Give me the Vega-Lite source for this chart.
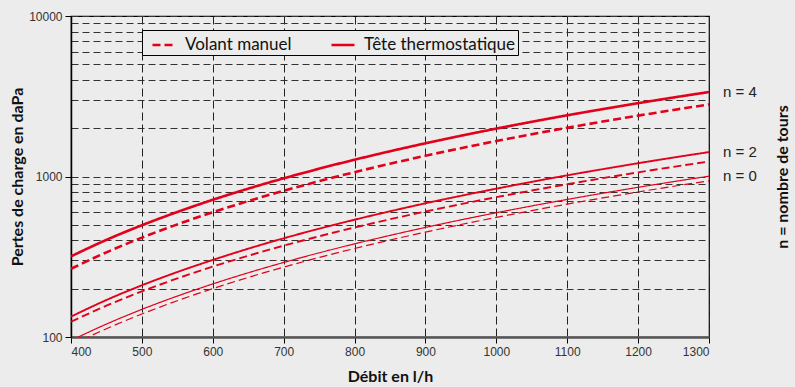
{
  "$schema": "https://vega.github.io/schema/vega-lite/v6.json",
  "width": 638,
  "height": 321,
  "autosize": {"type": "none"},
  "padding": {"left": 71, "top": 16, "right": 86, "bottom": 50},
  "background": "#ebeceb",
  "config": {
    "view": {"stroke": "#000", "strokeWidth": 1.2, "fill": "#ebeceb"},
    "axis": {"labelFont": "Liberation Sans", "labelFontSize": 12, "labelColor": "#333", "titleFont": "Lato", "titleFontWeight": "bold", "titleFontSize": 16, "titleColor": "#111"}
  },
  "datasets": {
    "curves": [
      {"q":400,"dp":318,"n":4,"type":"Tête thermostatique"},{"q":450,"dp":403,"n":4,"type":"Tête thermostatique"},{"q":500,"dp":497,"n":4,"type":"Tête thermostatique"},{"q":550,"dp":601,"n":4,"type":"Tête thermostatique"},{"q":600,"dp":716,"n":4,"type":"Tête thermostatique"},{"q":650,"dp":840,"n":4,"type":"Tête thermostatique"},{"q":700,"dp":974,"n":4,"type":"Tête thermostatique"},{"q":750,"dp":1118,"n":4,"type":"Tête thermostatique"},{"q":800,"dp":1272,"n":4,"type":"Tête thermostatique"},{"q":850,"dp":1436,"n":4,"type":"Tête thermostatique"},{"q":900,"dp":1610,"n":4,"type":"Tête thermostatique"},{"q":950,"dp":1794,"n":4,"type":"Tête thermostatique"},{"q":1000,"dp":1988,"n":4,"type":"Tête thermostatique"},{"q":1050,"dp":2192,"n":4,"type":"Tête thermostatique"},{"q":1100,"dp":2406,"n":4,"type":"Tête thermostatique"},{"q":1150,"dp":2629,"n":4,"type":"Tête thermostatique"},{"q":1200,"dp":2863,"n":4,"type":"Tête thermostatique"},{"q":1250,"dp":3107,"n":4,"type":"Tête thermostatique"},{"q":1300,"dp":3360,"n":4,"type":"Tête thermostatique"},
      {"q":400,"dp":266,"n":4,"type":"Volant manuel"},{"q":450,"dp":337,"n":4,"type":"Volant manuel"},{"q":500,"dp":416,"n":4,"type":"Volant manuel"},{"q":550,"dp":503,"n":4,"type":"Volant manuel"},{"q":600,"dp":599,"n":4,"type":"Volant manuel"},{"q":650,"dp":703,"n":4,"type":"Volant manuel"},{"q":700,"dp":815,"n":4,"type":"Volant manuel"},{"q":750,"dp":935,"n":4,"type":"Volant manuel"},{"q":800,"dp":1064,"n":4,"type":"Volant manuel"},{"q":850,"dp":1201,"n":4,"type":"Volant manuel"},{"q":900,"dp":1347,"n":4,"type":"Volant manuel"},{"q":950,"dp":1501,"n":4,"type":"Volant manuel"},{"q":1000,"dp":1663,"n":4,"type":"Volant manuel"},{"q":1050,"dp":1833,"n":4,"type":"Volant manuel"},{"q":1100,"dp":2012,"n":4,"type":"Volant manuel"},{"q":1150,"dp":2199,"n":4,"type":"Volant manuel"},{"q":1200,"dp":2394,"n":4,"type":"Volant manuel"},{"q":1250,"dp":2598,"n":4,"type":"Volant manuel"},{"q":1300,"dp":2810,"n":4,"type":"Volant manuel"},
      {"q":400,"dp":134,"n":2,"type":"Tête thermostatique"},{"q":450,"dp":170,"n":2,"type":"Tête thermostatique"},{"q":500,"dp":210,"n":2,"type":"Tête thermostatique"},{"q":550,"dp":254,"n":2,"type":"Tête thermostatique"},{"q":600,"dp":302,"n":2,"type":"Tête thermostatique"},{"q":650,"dp":355,"n":2,"type":"Tête thermostatique"},{"q":700,"dp":412,"n":2,"type":"Tête thermostatique"},{"q":750,"dp":473,"n":2,"type":"Tête thermostatique"},{"q":800,"dp":538,"n":2,"type":"Tête thermostatique"},{"q":850,"dp":607,"n":2,"type":"Tête thermostatique"},{"q":900,"dp":681,"n":2,"type":"Tête thermostatique"},{"q":950,"dp":758,"n":2,"type":"Tête thermostatique"},{"q":1000,"dp":840,"n":2,"type":"Tête thermostatique"},{"q":1050,"dp":926,"n":2,"type":"Tête thermostatique"},{"q":1100,"dp":1017,"n":2,"type":"Tête thermostatique"},{"q":1150,"dp":1111,"n":2,"type":"Tête thermostatique"},{"q":1200,"dp":1210,"n":2,"type":"Tête thermostatique"},{"q":1250,"dp":1313,"n":2,"type":"Tête thermostatique"},{"q":1300,"dp":1420,"n":2,"type":"Tête thermostatique"},
      {"q":400,"dp":124.5,"n":2,"type":"Volant manuel"},{"q":450,"dp":156.7,"n":2,"type":"Volant manuel"},{"q":500,"dp":192.4,"n":2,"type":"Volant manuel"},{"q":550,"dp":231.7,"n":2,"type":"Volant manuel"},{"q":600,"dp":274.5,"n":2,"type":"Volant manuel"},{"q":650,"dp":320.9,"n":2,"type":"Volant manuel"},{"q":700,"dp":370.8,"n":2,"type":"Volant manuel"},{"q":750,"dp":424.2,"n":2,"type":"Volant manuel"},{"q":800,"dp":481.1,"n":2,"type":"Volant manuel"},{"q":850,"dp":541.5,"n":2,"type":"Volant manuel"},{"q":900,"dp":605.4,"n":2,"type":"Volant manuel"},{"q":950,"dp":672.6,"n":2,"type":"Volant manuel"},{"q":1000,"dp":743.4,"n":2,"type":"Volant manuel"},{"q":1050,"dp":817.6,"n":2,"type":"Volant manuel"},{"q":1100,"dp":895.3,"n":2,"type":"Volant manuel"},{"q":1150,"dp":976.2,"n":2,"type":"Volant manuel"},{"q":1200,"dp":1060.8,"n":2,"type":"Volant manuel"},{"q":1250,"dp":1148.8,"n":2,"type":"Volant manuel"},{"q":1300,"dp":1240,"n":2,"type":"Volant manuel"},
      {"q":400,"dp":95.1,"n":0,"type":"Tête thermostatique"},{"q":450,"dp":120.4,"n":0,"type":"Tête thermostatique"},{"q":500,"dp":148.7,"n":0,"type":"Tête thermostatique"},{"q":550,"dp":179.9,"n":0,"type":"Tête thermostatique"},{"q":600,"dp":214.1,"n":0,"type":"Tête thermostatique"},{"q":650,"dp":251.3,"n":0,"type":"Tête thermostatique"},{"q":700,"dp":291.4,"n":0,"type":"Tête thermostatique"},{"q":750,"dp":334.5,"n":0,"type":"Tête thermostatique"},{"q":800,"dp":380.6,"n":0,"type":"Tête thermostatique"},{"q":850,"dp":429.6,"n":0,"type":"Tête thermostatique"},{"q":900,"dp":481.7,"n":0,"type":"Tête thermostatique"},{"q":950,"dp":536.7,"n":0,"type":"Tête thermostatique"},{"q":1000,"dp":594.7,"n":0,"type":"Tête thermostatique"},{"q":1050,"dp":655.6,"n":0,"type":"Tête thermostatique"},{"q":1100,"dp":719.6,"n":0,"type":"Tête thermostatique"},{"q":1150,"dp":786.5,"n":0,"type":"Tête thermostatique"},{"q":1200,"dp":856.3,"n":0,"type":"Tête thermostatique"},{"q":1250,"dp":929.2,"n":0,"type":"Tête thermostatique"},{"q":1300,"dp":1005,"n":0,"type":"Tête thermostatique"},
      {"q":400,"dp":89.0,"n":0,"type":"Volant manuel"},{"q":450,"dp":112.6,"n":0,"type":"Volant manuel"},{"q":500,"dp":139.1,"n":0,"type":"Volant manuel"},{"q":550,"dp":168.3,"n":0,"type":"Volant manuel"},{"q":600,"dp":200.2,"n":0,"type":"Volant manuel"},{"q":650,"dp":235,"n":0,"type":"Volant manuel"},{"q":700,"dp":272.5,"n":0,"type":"Volant manuel"},{"q":750,"dp":312.9,"n":0,"type":"Volant manuel"},{"q":800,"dp":356,"n":0,"type":"Volant manuel"},{"q":850,"dp":401.9,"n":0,"type":"Volant manuel"},{"q":900,"dp":450.5,"n":0,"type":"Volant manuel"},{"q":950,"dp":502,"n":0,"type":"Volant manuel"},{"q":1000,"dp":556.2,"n":0,"type":"Volant manuel"},{"q":1050,"dp":613.2,"n":0,"type":"Volant manuel"},{"q":1100,"dp":673,"n":0,"type":"Volant manuel"},{"q":1150,"dp":735.6,"n":0,"type":"Volant manuel"},{"q":1200,"dp":800.9,"n":0,"type":"Volant manuel"},{"q":1250,"dp":869.1,"n":0,"type":"Volant manuel"},{"q":1300,"dp":940,"n":0,"type":"Volant manuel"}
    ],
    "labels": [
      {"q":1300,"dp":3360,"label":"n = 4","off":-4},
      {"q":1300,"dp":1420,"label":"n = 2","off":0},
      {"q":1300,"dp":1005,"label":"n = 0","off":0}
    ]
  },
  "layer": [
    {
      "data": {"name": "curves"},
      "mark": {"type": "line", "clip": true, "color": "#e2001a", "interpolate": "monotone"},
      "encoding": {
        "x": {"field": "q", "type": "quantitative", "scale": {"domain": [400, 1300], "nice": false},
          "axis": {"values": [400,500,600,700,800,900,1000,1100,1200,1300], "format": "d", "grid": true, "gridDash": [8,4], "gridColor": "#222", "gridWidth": 1, "domainColor": "#555", "domainWidth": 2.5, "tickColor": "#000", "tickSize": 6, "labelPadding": 3, "title": "Débit en l/h", "titlePadding": 11}},
        "y": {"field": "dp", "type": "quantitative", "scale": {"type": "log", "domain": [100, 10000], "nice": false},
          "axis": {"values": [100,200,300,400,500,600,700,800,900,1000,2000,3000,4000,5000,6000,7000,8000,9000,10000],
            "labelExpr": "(datum.value == 100 || datum.value == 1000 || datum.value == 10000) ? datum.value : ''",
            "tickOpacity": {"condition": {"test": "datum.value == 100 || datum.value == 1000 || datum.value == 10000", "value": 1}, "value": 0},
            "grid": true, "gridDash": [7,4], "gridColor": "#333", "gridWidth": 1, "domainColor": "#000", "domainWidth": 1.5, "tickColor": "#000", "tickSize": 6, "labelPadding": 3,
            "title": "Pertes de charge en daPa", "titlePadding": 3}},
        "strokeDash": {"field": "type", "type": "nominal",
          "scale": {"domain": ["Volant manuel", "Tête thermostatique"], "range": [[8,4],[1,0]]},
          "legend": {"title": null, "orient": "none", "legendX": 71, "legendY": 14, "direction": "horizontal",
            "symbolType": "stroke", "symbolSize": 529, "symbolStrokeWidth": 2.4, "symbolStrokeColor": "#e2001a",
            "labelFont": "Lato", "labelFontSize": 17, "labelColor": "#111", "columnPadding": 31, "labelOffset": 8,
            "padding": 2, "strokeColor": "#000", "fillColor": "#ebeceb", "symbolOffset": 7}},
        "strokeWidth": {"field": "n", "type": "ordinal", "scale": {"domain": [0, 2, 4], "range": [1.2, 2.6, 3.8]}, "legend": null},
        "detail": {"field": "n"}
      }
    },
    {
      "data": {"name": "labels"},
      "mark": {"type": "text", "align": "left", "dx": 14, "font": "Liberation Sans", "fontSize": 15, "color": "#222", "baseline": "middle"},
      "encoding": {
        "x": {"field": "q", "type": "quantitative"},
        "y": {"field": "dp", "type": "quantitative",
          "axis": {"orient": "right", "labels": false, "ticks": false, "domain": false, "grid": false, "title": "n = nombre de tours", "titleAngle": 270, "titlePadding": 81}},
        "yOffset": {"field": "off", "type": "quantitative", "scale": null},
        "text": {"field": "label"}
      }
    }
  ],
  "resolve": {"axis": {"y": "independent"}}
}
